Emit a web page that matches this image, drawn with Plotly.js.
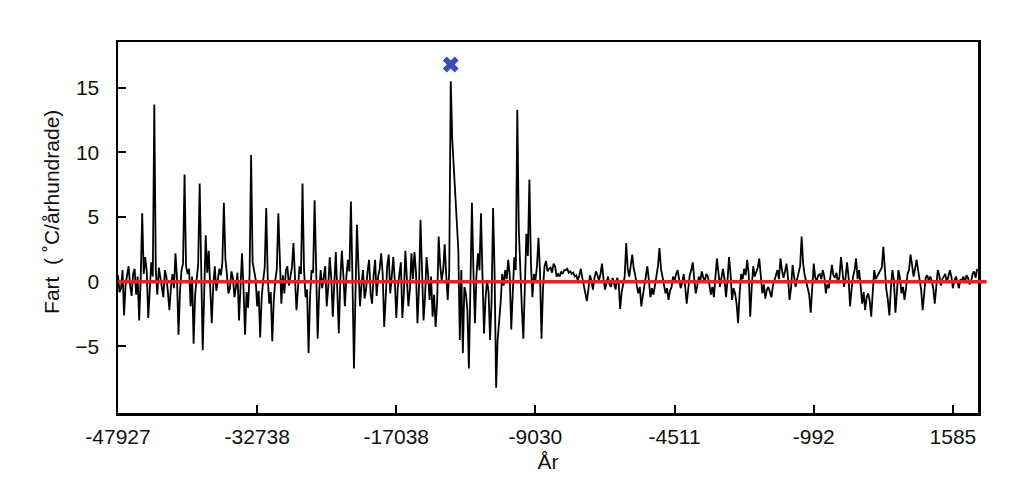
<!DOCTYPE html>
<html>
<head>
<meta charset="utf-8">
<script src="https://cdn.plot.ly/plotly-3.0.1.min.js"></script>
<style>html,body{margin:0;padding:0;background:#fff;}#chart{width:1026px;height:490px;}</style>
</head>
<body>
<div id="chart"></div>
<script>
// Rate of temperature change (°C per century), samples in order along the record
var rateValues = [
 0.5,-0.8, -0.5,0.9, -2.6,-0.3, 0.5,1.2, -0.3,-1.1, 0.6,1.0, -1.0,0.4, -3.0,0.2, 5.3,0.6, 1.9,0.8,
 -2.8,-0.6, 1.5,0.4, 13.7,0.8, -1.0,1.1, 0.3,-0.6, -1.2,0.9, 0.4,-0.8, -2.2,-0.4, 0.6,-0.5, 2.2,0.3,
 -4.1,-0.7, 0.9,1.4, 8.3,1.2, 0.6,1.0, -1.9,0.4, -4.8,-1.0, 0.5,1.3, 7.6,0.4, -5.3,-0.9, 3.6,0.7,
 2.4,-0.6, -3.2,-0.2, 1.2,-0.7, 0.2,1.0, 0.5,1.5, 6.1,1.8, 0.6,-0.9, -0.5,0.8, 0.3,-1.2, -0.4,0.7,
 -3.0,-0.5, 2.2,-0.6, -4.1,-0.8, -2.0,0.6, 9.8,1.5, 0.9,0.2, -1.9,-0.7, -4.3,-1.2, 0.1,1.1, 5.7,0.3,
 -1.7,-0.8, -4.6,-1.4, 0.1,1.0, 5.3,0.7, -1.7,0.5, -0.9,0.9, 1.2,-0.3, 0.3,1.1, 3.0,0.2, -2.2,-0.5,
 1.2,0.6, 7.6,0.9, -1.2,-0.6, -5.5,-1.1, 0.9,0.7, 6.3,1.0, -4.4,-0.8, 0.9,-0.5, 0.6,1.2, -1.9,-0.4,
 1.9,0.3, -2.7,0.6, 2.3,-0.7, -4.0,0.2, 2.4,0.5, -1.9,0.4, 1.7,0.8, 6.2,0.3, -6.7,-1.0, 4.4,1.1,
 -1.9,-0.2, 0.9,-1.3, -0.6,0.8, 1.7,-0.9, -1.7,0.5, 1.7,-1.1, 0.4,1.0, 2.2,0.6, -3.5,-1.2, 1.2,2.1,
 -0.9,0.4, 1.9,0.1, -2.8,-0.4, 0.6,1.5, -2.8,-0.9, 2.4,0.3, -1.9,-0.6, 2.2,0.2, 2.3,0.8, -3.2,-0.5,
 4.8,0.9, -3.0,-1.2, 1.9,0.6, -1.4,0.4, -2.7,-1.0, -3.5,-1.6, 3.5,1.3, 0.1,0.9, 2.9,0.5, -1.4,0.8,
 15.5,11.0, 9.0,6.3, 5.0,2.5, -4.5,0.9, -5.5,-0.4, -0.9,-2.2, -6.7,-1.5, 6.1,0.8, -3.2,0.5, 2.2,0.9,
 5.3,0.4, -4.0,-1.3, 0.1,-0.8, -4.5,-1.5, 5.7,0.6, -8.2,-4.5, -3.2,-1.6, 0.6,-0.3, 0.9,0.2, 1.7,0.5,
 -3.7,-0.8, 1.9,0.9, 13.3,4.0, 0.6,-2.0, -4.4,-1.0, 3.7,2.0, 7.9,1.5, -1.2,0.6, 0.1,1.2, 3.4,0.8,
 -4.4,-0.5, 1.2,1.6, 0.8,1.0, 1.1,0.7, 1.4,1.2, 0.4,0.6, 0.4,0.8, 0.6,0.9, 0.9,1.0, 0.7,0.8,
 0.6,0.7, 0.4,0.5, 0.1,0.5, 1.0,0.3, -0.4,-0.9, -1.5,-0.6, 0.5,0.1, -0.6,0.3, 0.8,0.5, 0.1,0.6,
 1.4,0.2, -0.6,-0.1, 0.4,-0.2, -0.4,0.3, -0.3,-0.6, 0.3,0.0, -2.1,-0.8, -0.2,0.4, 3.0,1.0, 0.4,1.3,
 2.1,1.0, 0.5,-0.3, -0.9,-0.4, -1.9,-1.1, -0.4,0.3, 1.2,0.1, -1.2,-0.5, -1.0,-0.3, 0.6,1.2, 2.6,1.0,
 0.4,-0.3, -0.9,-0.5, -1.4,-0.7, -0.4,0.4, 0.1,0.6, 0.9,0.2, -0.5,-0.1, 0.6,-0.4, -1.7,-0.6, 0.5,0.9,
 1.5,0.2, -0.9,-0.3, 0.4,0.1, 0.8,0.3, 0.1,0.6, 0.4,-0.2, -1.0,-0.4, -1.2,0.4, 1.8,0.7, -0.4,0.3,
 1.0,0.2, -1.2,0.1, 1.9,0.6, -1.4,-0.5, -0.9,-1.7, -3.2,-0.9, 0.6,0.2, 1.0,0.5, 1.7,0.6, -2.7,-0.4,
 1.2,0.4, 0.8,1.1, 1.8,0.6, -0.9,-0.2, -1.3,-0.6, -0.4,-0.8, -1.2,-0.3, 0.1,0.5, 0.9,0.2, 1.8,0.9,
 0.3,0.8, 1.4,0.3, -1.4,-0.5, 1.3,0.4, -0.4,0.2, 0.6,1.2, 3.5,1.4, 0.5,0.0, -0.6,-1.0, -2.4,-0.7,
 1.4,0.3, 0.1,0.5, 0.6,0.2, 0.9,0.4, -0.9,-0.2, -0.5,0.4, 1.3,0.5, 0.3,0.7, -0.1,0.4, 1.9,0.8,
 -0.4,0.3, 1.5,0.4, -1.9,-0.6, 0.4,0.9, 1.8,0.2, 0.9,-0.3, -1.7,-0.8, -2.2,-1.2, -0.9,-1.5, -2.7,-0.8,
 0.9,0.2, 0.4,0.6, 0.9,1.1, 2.7,0.9, -0.6,-1.4, -2.6,-0.5, 0.9,0.1, -2.4,-0.8, 0.9,0.3, -0.9,-0.4,
 -1.4,-0.5, 0.6,0.9, 2.1,1.3, 0.4,1.0, 1.7,0.9, 0.1,-0.6, -2.2,-0.9, 0.3,0.5, 0.1,0.4, 0.1,-0.5,
 -1.7,-0.4, 0.9,0.5, -0.3,0.2, 0.4,0.6, -0.1,0.3, 0.9,0.4, -0.5,0.1, 0.4,0.0, -0.5,0.2, 0.1,0.4,
 -0.1,0.5, 0.3,-0.2, 0.0,0.6, 0.8,0.3, 1.0
];

// Year labels shown along the axis (every 92nd sample)
var yearLabels = ['-47927', '-32738', '-17038', '-9030', '-4511', '-992', '1585'];
var samplesPerLabel = 92;

// Marked peak (blue cross)
var markSample = [220];
var markValue = [16.8];

var yTicks = [-5, 0, 5, 10, 15];

var sampleIdx = rateValues.map(function (_, i) { return i; });
var tickPos = yearLabels.map(function (_, k) { return k * samplesPerLabel; });

var fontFam = 'Liberation Sans, Arial, Helvetica, sans-serif';

var traces = [
  {
    x: sampleIdx, y: rateValues, type: 'scatter', mode: 'lines',
    line: { color: '#000000', width: 1.8 }, hoverinfo: 'skip', showlegend: false
  },
  {
    x: markSample, y: markValue, type: 'scatter', mode: 'markers',
    marker: { symbol: 'x', size: 14, color: '#3b4db6', line: { width: 0 } },
    cliponaxis: false, showlegend: false
  }
];

var layout = {
  width: 1026, height: 490,
  margin: { l: 118, r: 48, t: 42, b: 77 },
  paper_bgcolor: '#ffffff', plot_bgcolor: '#ffffff',
  showlegend: false,
  font: { family: fontFam, size: 21, color: '#111111' },
  xaxis: {
    range: [0, 568.6],
    tickmode: 'array', tickvals: tickPos, ticktext: yearLabels,
    ticks: 'inside', ticklen: 8, tickwidth: 2, tickcolor: '#000',
    showline: true, linewidth: 2.5, linecolor: '#000', mirror: true,
    showgrid: false, zeroline: false,
    ticklabelstandoff: 3,
    tickfont: { family: fontFam, size: 21, color: '#111' },
    title: { text: 'År', font: { family: fontFam, size: 21, color: '#111' }, standoff: 8 }
  },
  yaxis: {
    range: [-10.15, 18.54],
    tickmode: 'array', tickvals: yTicks,
    ticks: 'inside', ticklen: 8, tickwidth: 2, tickcolor: '#000',
    showline: true, linewidth: 2.5, linecolor: '#000', mirror: true,
    showgrid: false, zeroline: false,
    ticklabelstandoff: 12,
    tickfont: { family: fontFam, size: 21, color: '#111' }
  },
  annotations: [
    {
      text: 'Fart\u00a0\u00a0(\u00a0˚C/århundrade)', textangle: -90,
      xref: 'paper', yref: 'paper', x: 0, y: 0.542, xshift: -66,
      xanchor: 'center', yanchor: 'middle', showarrow: false,
      font: { family: fontFam, size: 21, color: '#111' }
    }
  ],
  shapes: [
    {
      type: 'line', xref: 'paper', yref: 'y', x0: 0, x1: 1.01, y0: 0, y1: 0,
      line: { color: '#e8202a', width: 3.5 }, layer: 'above'
    }
  ]
};

Plotly.newPlot('chart', traces, layout, { displayModeBar: false, staticPlot: true });
</script>
</body>
</html>
